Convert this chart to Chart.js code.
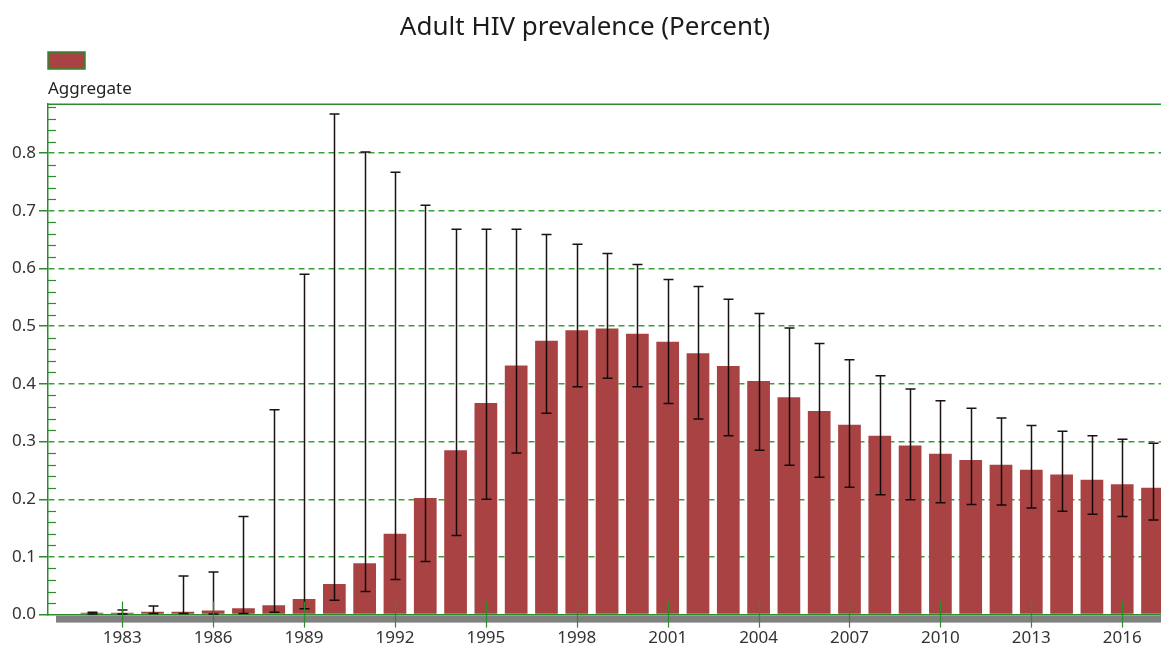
<!DOCTYPE html>
<html>
<head>
<meta charset="utf-8">
<title>Adult HIV prevalence</title>
<script src="https://cdn.jsdelivr.net/npm/chart.js@4.4.0/dist/chart.umd.min.js"></script>
<style>
  html, body { margin: 0; padding: 0; background: #fff; overflow: hidden; }
  #wrap { width: 1161px; height: 650px; position: relative; }
</style>
</head>
<body>
<div id="wrap"><canvas id="myChart"></canvas></div>
<script>
// data
const years = [1982, 1983, 1984, 1985, 1986, 1987, 1988, 1989, 1990, 1991, 1992, 1993,
    1994, 1995, 1996, 1997, 1998, 1999, 2000, 2001, 2002, 2003, 2004, 2005,
    2006, 2007, 2008, 2009, 2010, 2011, 2012, 2013, 2014, 2015, 2016, 2017];
const prevalence = [0.003, 0.003, 0.005, 0.005, 0.007, 0.011, 0.016, 0.027, 0.053, 0.089, 0.140, 0.202,
    0.285, 0.367, 0.432, 0.475, 0.493, 0.496, 0.487, 0.473, 0.453, 0.431, 0.405, 0.377,
    0.353, 0.329, 0.310, 0.293, 0.279, 0.268, 0.260, 0.251, 0.243, 0.234, 0.226, 0.220];
const lowerBound = [0.001, 0.001, 0.002, 0.002, 0.001, 0.002, 0.004, 0.010, 0.025, 0.040, 0.061, 0.092,
    0.137, 0.200, 0.280, 0.349, 0.395, 0.410, 0.395, 0.366, 0.339, 0.310, 0.285, 0.259,
    0.238, 0.221, 0.208, 0.199, 0.194, 0.191, 0.190, 0.185, 0.179, 0.174, 0.170, 0.164];
const upperBound = [0.004, 0.008, 0.015, 0.067, 0.074, 0.170, 0.355, 0.590, 0.868, 0.802, 0.767, 0.710,
    0.668, 0.668, 0.668, 0.659, 0.642, 0.626, 0.607, 0.581, 0.569, 0.547, 0.522, 0.497,
    0.470, 0.442, 0.414, 0.391, 0.371, 0.358, 0.341, 0.328, 0.318, 0.310, 0.304, 0.297];
const xTickYears = [1983, 1986, 1989, 1992, 1995, 1998, 2001, 2004, 2007, 2010, 2013, 2016];
const yTickValues = [0, 0.1, 0.2, 0.3, 0.4, 0.5, 0.6, 0.7, 0.8];

const seriesName = 'Aggregate';
const barColor = '#a94343';
const axisGreen = '#2a8c2a';
const gridGreen = '#3a9f3a';
const fontFamily = '"Noto Sans", "Open Sans", sans-serif';

// draws legend, top border, grey base, error bars and the extra tick marks
const decorPlugin = {
    id: 'decor',
    beforeDatasetsDraw(chart) {
        const { ctx, chartArea } = chart;
        ctx.save();
        // grey base under the plot
        ctx.fillStyle = '#808080';
        ctx.fillRect(chartArea.left + 8, chartArea.bottom + 1, chart.width - chartArea.left - 8, 7);
        // top border line
        ctx.strokeStyle = axisGreen;
        ctx.lineWidth = 1.5;
        ctx.beginPath();
        ctx.moveTo(chartArea.left, chartArea.top);
        ctx.lineTo(chart.width, chartArea.top);
        ctx.stroke();
        ctx.restore();
    },
    afterDatasetsDraw(chart) {
        const { ctx, chartArea } = chart;
        const xs = chart.scales.x;
        const ys = chart.scales.y;
        ctx.save();

        // error bars
        ctx.strokeStyle = 'rgba(15,5,5,0.95)';
        ctx.lineWidth = 1.5;
        years.forEach((yr, i) => {
            const x = Math.round(xs.getPixelForValue(yr)) + 0.5;
            const yLo = ys.getPixelForValue(lowerBound[i]);
            const yHi = ys.getPixelForValue(upperBound[i]);
            ctx.beginPath();
            ctx.moveTo(x, yLo);
            ctx.lineTo(x, yHi);
            ctx.moveTo(x - 5, yHi);
            ctx.lineTo(x + 5, yHi);
            ctx.moveTo(x - 5, yLo);
            ctx.lineTo(x + 5, yLo);
            ctx.stroke();
        });

        // minor ticks on y axis, inside the plot
        ctx.strokeStyle = axisGreen;
        ctx.lineWidth = 1.2;
        for (let k = 1; k * 0.02 < ys.max; k++) {
            if (k % 5 === 0) continue;
            const y = Math.round(ys.getPixelForValue(k * 0.02)) + 0.5;
            ctx.beginPath();
            ctx.moveTo(chartArea.left, y);
            ctx.lineTo(chartArea.left + 8, y);
            ctx.stroke();
        }

        // x ticks crossing the axis
        xTickYears.forEach(yr => {
            const x = Math.round(xs.getPixelForValue(yr)) + 0.5;
            ctx.beginPath();
            ctx.moveTo(x, chartArea.bottom - 13);
            ctx.lineTo(x, chartArea.bottom + 13);
            ctx.stroke();
        });

        // legend
        ctx.fillStyle = barColor;
        ctx.fillRect(chartArea.left, 52, 37, 17);
        ctx.strokeStyle = axisGreen;
        ctx.lineWidth = 1.5;
        ctx.strokeRect(chartArea.left, 52, 37, 17);
        ctx.fillStyle = '#222';
        ctx.font = '17px ' + fontFamily;
        ctx.textBaseline = 'middle';
        ctx.textAlign = 'left';
        ctx.fillText(seriesName, chartArea.left, 89);
        ctx.restore();
    }
};

const ctx = document.getElementById('myChart').getContext('2d');

const myChart = new Chart(ctx, {
    type: 'bar',
    data: {
        datasets: [{
            label: seriesName,
            data: years.map((yr, i) => ({ x: yr, y: prevalence[i] })),
            backgroundColor: barColor,
            borderWidth: 0,
            barPercentage: 0.75,
            categoryPercentage: 1
        }]
    },
    options: {
        responsive: true,
        maintainAspectRatio: false,
        animation: false,
        layout: { padding: { left: 9, right: 0, top: 0, bottom: 2 } },
        plugins: {
            legend: { display: false },
            tooltip: { enabled: false },
            title: {
                display: true,
                text: 'Adult HIV prevalence (Percent)',
                color: '#1b1b1b',
                font: { family: fontFamily, size: 26, weight: 'normal' },
                padding: { top: 12, bottom: 61 }
            }
        },
        scales: {
            x: {
                type: 'linear',
                offset: false,
                min: 1980.55,
                max: 2017.28,
                afterBuildTicks: (scale) => {
                    scale.ticks = xTickYears.map(v => ({ value: v }));
                },
                ticks: {
                    color: '#333',
                    font: { family: fontFamily, size: 17 },
                    padding: 0,
                    maxRotation: 0,
                    autoSkip: false,
                    callback: (v) => String(v)
                },
                grid: {
                    display: true,
                    offset: false,
                    drawOnChartArea: false,
                    drawTicks: true,
                    tickLength: 13,
                    tickColor: 'rgba(0,0,0,0)'
                },
                border: { display: true, color: axisGreen, width: 1.5 }
            },
            y: {
                min: 0,
                max: 0.885,
                afterBuildTicks: (scale) => {
                    scale.ticks = yTickValues.map(v => ({ value: v }));
                },
                ticks: {
                    color: '#333',
                    font: { family: fontFamily, size: 17 },
                    padding: 3,
                    callback: (v) => v.toFixed(1)
                },
                grid: {
                    display: true,
                    color: (c) => c.tick && c.tick.value === 0 ? 'rgba(0,0,0,0)' : gridGreen,
                    lineWidth: 1.5,
                    drawTicks: true,
                    tickLength: 9,
                    tickColor: axisGreen,
                    tickBorderDash: []
                },
                border: { display: true, color: axisGreen, width: 1.5, dash: [6, 4] }
            }
        }
    },
    plugins: [decorPlugin]
});
</script>
</body>
</html>
